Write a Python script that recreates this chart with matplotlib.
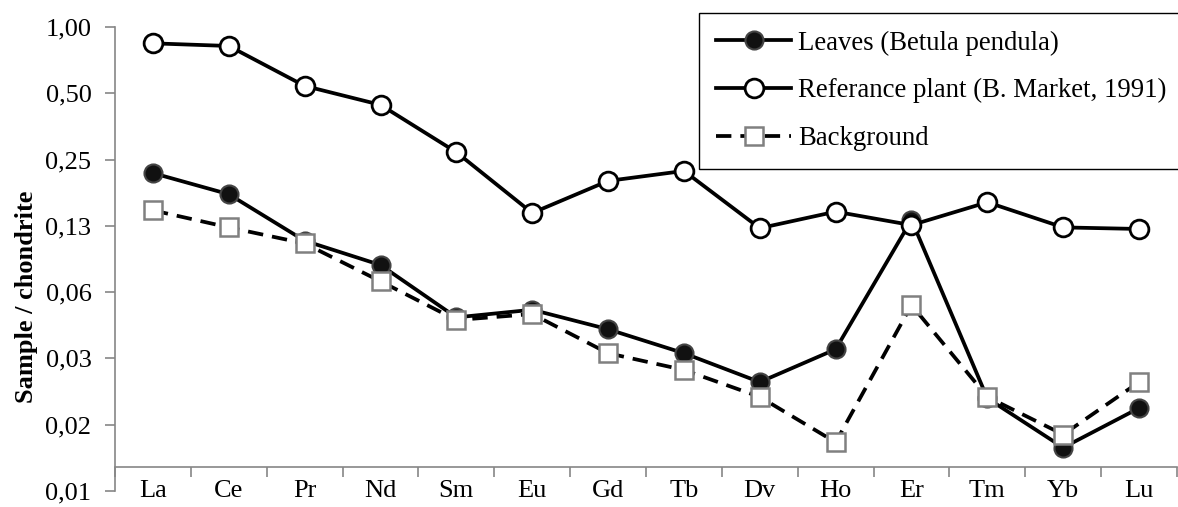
import matplotlib
matplotlib.use('Agg')
import matplotlib.pyplot as plt
import numpy as np
from matplotlib.ticker import FixedLocator, FixedFormatter, NullLocator

# REE normalised to chondrite
elements = ['La', 'Ce', 'Pr', 'Nd', 'Sm', 'Eu', 'Gd', 'Tb', 'Dv', 'Ho', 'Er', 'Tm', 'Yb', 'Lu']
leaves = [0.217, 0.174, 0.107, 0.083, 0.048, 0.052, 0.0424, 0.033, 0.0244, 0.0344,
          0.133, 0.0206, 0.0123, 0.0186]
reference = [0.843, 0.82, 0.54, 0.443, 0.27, 0.143, 0.20, 0.222, 0.122, 0.145,
             0.126, 0.16, 0.123, 0.121]
background = [0.147, 0.123, 0.104, 0.070, 0.0467, 0.0497, 0.033, 0.0277, 0.0209, 0.0130,
              0.0546, 0.0209, 0.0141, 0.0244]

ytick_vals = [2.0**-7, 2.0**-6, 2.0**-5, 2.0**-4, 2.0**-3, 2.0**-2, 2.0**-1, 1.0]
ytick_labels = ['0,01', '0,02', '0,03', '0,06', '0,13', '0,25', '0,50', '1,00']

plt.rcParams['font.family'] = ['Liberation Serif', 'DejaVu Serif']
axis_grey = '#868686'

fig = plt.figure(figsize=(11.78, 5.07), dpi=100)
ax = fig.add_axes([115/1178, 16/507, 1062/1178, 464/507])

x = np.arange(len(elements))
l1, = ax.plot(x, leaves, color='black', lw=2.7, marker='o', ms=13,
              mfc='#111111', mec='#444444', mew=1.5, zorder=3,
              label='Leaves (Betula pendula)')
l3, = ax.plot(x, background, color='black', lw=2.7, ls=(0, (4.1, 2.4)), marker='s', ms=13,
              mfc='white', mec='#808080', mew=1.8, zorder=4,
              label='Background')
l2, = ax.plot(x, reference, color='black', lw=2.7, marker='o', ms=13.5,
              mfc='white', mec='black', mew=2.0, zorder=5,
              label='Referance plant (B. Market, 1991)')

ax.set_yscale('log', base=2)
ax.set_ylim(2.0**-7, 1.0)
ax.set_xlim(-0.5, 13.5)

ax.yaxis.set_major_locator(FixedLocator(ytick_vals))
ax.yaxis.set_major_formatter(FixedFormatter(ytick_labels))
ax.yaxis.set_minor_locator(NullLocator())

ax.set_xticks(x)
ax.set_xticklabels(elements)
ax.set_xticks(np.arange(-0.5, 14, 1), minor=True)

for s in ['top', 'right']:
    ax.spines[s].set_visible(False)
for s in ['left', 'bottom']:
    ax.spines[s].set_color(axis_grey)
    ax.spines[s].set_linewidth(1.2)
ax.spines['bottom'].set_position(('data', 0.01))

ax.tick_params(axis='y', which='major', length=7, width=1.2, color=axis_grey,
               labelsize=19, pad=10)
ax.tick_params(axis='x', which='major', length=0, labelsize=19, pad=9)
ax.tick_params(axis='x', which='minor', length=7, width=1.2, color=axis_grey)

ax.set_ylabel('Sample / chondrite', fontsize=19, fontweight='bold', va='center')
ax.yaxis.set_label_coords(-0.083, 0.419)

leg = ax.legend(handles=[l1, l2, l3], loc='upper left',
                bbox_to_anchor=(699/1178, 1 - 13/507), bbox_transform=fig.transFigure,
                fontsize=19.3, frameon=True, fancybox=False, framealpha=1,
                edgecolor='black', borderaxespad=0, borderpad=0.65,
                labelspacing=0.85, handlelength=2.8, handletextpad=0.25)
leg.get_frame().set_linewidth(1.0)

plt.savefig('out.png', dpi=100)
